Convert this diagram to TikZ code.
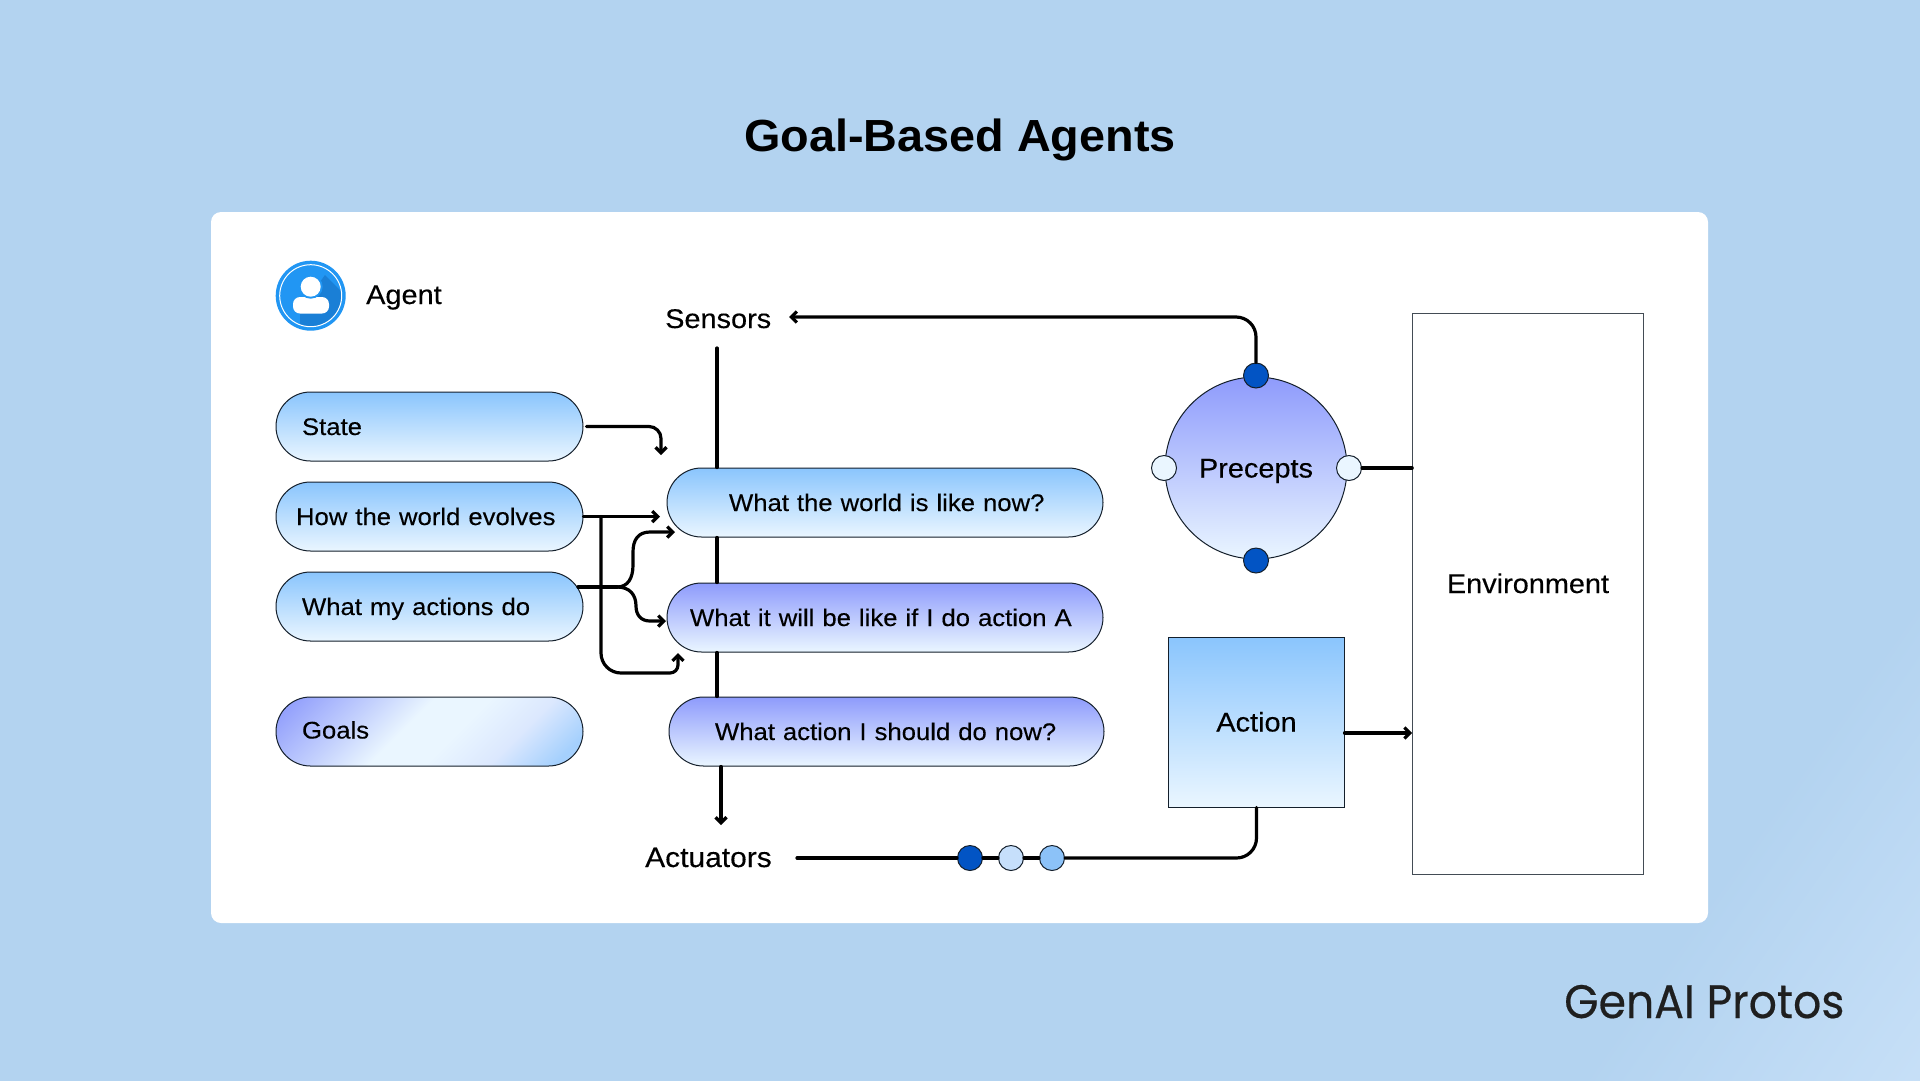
\documentclass[tikz,border=0pt]{standalone}
\usepackage{fontspec}
\setmainfont[FakeStretch=1.07,FakeBold=0.25]{Liberation Sans}
\newfontfamily\titlefont[FakeStretch=1.04]{Liberation Sans}
\newfontfamily\logofont[FakeStretch=0.94,FakeBold=0.4]{Poppins}
\usetikzlibrary{arrows.meta,calc,backgrounds}
\definecolor{bgA}{HTML}{B3D3F0}
\definecolor{bgB}{HTML}{C9E1F8}
\definecolor{skyTop}{HTML}{8AC5FD}
\definecolor{iceEnd}{HTML}{EAF6FF}
\definecolor{violetTop}{HTML}{8E9BFC}
\definecolor{violetMid}{HTML}{C6D3FD}
\definecolor{skyEnd}{HTML}{A5D0FD}
\definecolor{inkLine}{HTML}{141F2B}
\definecolor{deepBlue}{HTML}{0254C4}
\definecolor{paleBlue}{HTML}{C6DFFB}
\definecolor{midBlue}{HTML}{8CC2F8}
\definecolor{iconBlue}{HTML}{2196F3}
\definecolor{iconDark}{HTML}{1A7FD6}
\pgfdeclarehorizontalshading{goalsh}{100bp}{color(0bp)=(violetTop); color(31bp)=(violetTop); color(41bp)=(violetMid); color(47bp)=(iceEnd); color(53bp)=(iceEnd); color(60bp)=(violetMid!40!iceEnd); color(67bp)=(skyEnd); color(100bp)=(skyEnd)}
\pgfdeclarehorizontalshading{bgsh}{100bp}{color(0bp)=(bgA); color(76bp)=(bgA); color(86bp)=(bgB); color(100bp)=(bgB)}
\tikzset{
  x=1pt,y=-1pt,
  every node/.style={inner sep=0pt,font=\fontsize{24}{28}\selectfont,text=black},
  biglabel/.style={font=\fontsize{27}{30}\selectfont},
  outlined/.style={draw=inkLine,line width=1pt},
  cyanfill/.style={shade,top color=skyTop,bottom color=iceEnd},
  violetfill/.style={shade,top color=violetTop,bottom color=iceEnd},
  pill/.style n args={3}{outlined,rectangle,rounded corners=34.5pt,minimum height=69pt,minimum width=#1,
    inner xsep=#2,text width=#3,text height=17pt,text depth=0pt,anchor=center},
  dotnode/.style={circle,outlined,minimum size=25pt},
  boxnode/.style={rectangle,outlined,text height=19pt,text depth=0pt,biglabel},
  plain/.style={anchor=base west,biglabel},
  link/.style={line width=3.2pt,black,line cap=round},
  arrowlink/.style={link,-{Straight Barb[length=5.5pt,width=11pt]}},
}
\begin{document}
\begin{tikzpicture}
\useasboundingbox (0,0) rectangle (1920,1080);
\shade[shading=bgsh,shading angle=-35] (0,0) rectangle (1920,1080);
\fill[white,rounded corners=10pt] (211,212) rectangle (1708,923);
\node[font=\titlefont\fontsize{45}{50}\selectfont\bfseries,anchor=base] (title) at (960,151) {Goal-Based Agents};
\node[font=\logofont\fontsize{47}{50}\selectfont,anchor=base west,text=black!88] (logo) at (1564,1018) {GenAI Protos};

% icon
\node[circle,fill=iconBlue,minimum size=70pt] (icon) at (310.7,295.7) {};
\begin{scope}
\clip (icon.center) circle (31pt);
\fill[iconDark] (300,310) -- (325,275) -- (350,300) -- (340,340) -- (300,340) -- cycle;
\end{scope}
\draw[white,line width=1pt] (icon.center) circle (31pt);
\fill[white,rounded corners=7pt] (293,313.5) -- (293,297) -- (329,297) -- (329,313.5) -- cycle;
\fill[iconBlue] (310.7,286.7) circle (12pt);
\fill[white] (310.7,286.7) circle (10pt);
\node[plain] (agent) at (366,304) {Agent};

% left pills
\node[pill={307pt}{26pt}{255pt},cyanfill] (state) at (429.5,426.5) {\mbox{State}};
\node[pill={307pt}{20pt}{267pt},cyanfill] (evolves) at (429.5,516.5) {\mbox{How the world evolves}};
\node[pill={307pt}{26pt}{255pt},cyanfill] (actions) at (429.5,606.5) {\mbox{What my actions do}};
\node[pill={307pt}{26pt}{255pt},text depth=3pt,outlined,path picture={\shade[shading=goalsh,shading angle=-45]
   ($(path picture bounding box.center)+(-165,-165)$) rectangle ++(330,330);}] (goals) at (429.5,731.5) {\mbox{Goals}};

% right pills
\node[pill={436pt}{62pt}{312pt},cyanfill] (world) at (885,502.5) {\mbox{What the world is like now?}};
\node[pill={436pt}{23pt}{390pt},violetfill] (will) at (885,617.5) {\mbox{What it will be like if I do action A}};
\node[pill={435pt}{46pt}{343pt},violetfill] (should) at (886.5,731.5) {\mbox{What action I should do now?}};

% texts
\node[plain] (sensors) at (665,328) {Sensors};
\node[plain,font=\fontsize{28}{30}\selectfont] (actuators) at (645,867) {Actuators};

% precepts
\node[circle,outlined,violetfill,minimum size=182pt,text height=19pt,text depth=0pt,biglabel] (precepts) at (1256,468) {Precepts};
\node[dotnode,fill=deepBlue] (dotT) at (1256,375.5) {};
\node[dotnode,fill=deepBlue] (dotB) at (1256,560.5) {};
\node[dotnode,fill=iceEnd] (dotL) at (1164,468) {};
\node[dotnode,fill=iceEnd] (dotR) at (1349,468) {};

% boxes
\node[boxnode,cyanfill,minimum width=176pt,minimum height=170pt] (action) at (1256.5,722) {Action};
\node[rectangle,draw=inkLine!80,line width=0.7pt,fill=white,minimum width=231pt,minimum height=561pt,text height=19pt,text depth=20pt,biglabel] (env) at (1528,593.5) {Environment};

% small chain dots
\node[dotnode,fill=deepBlue] (c1) at (970,858) {};
\node[dotnode,fill=paleBlue] (c2) at (1011,858) {};
\node[dotnode,fill=midBlue] (c3) at (1052,858) {};

% helper coordinates
\coordinate (vx) at (717,0);
\coordinate (sensTop) at (717,348);
\coordinate (sensEnd) at (789,317);
\coordinate (actLineStart) at (797,858);
\coordinate (stateEnd) at (661,455);
\coordinate (evEnd) at (660,516.5);
\coordinate (evBranch) at (601,516.5);
\coordinate (evTurn) at (678,673);
\coordinate (evEnd2) at (678,653);
\coordinate (acStart) at (578,587);
\coordinate (acFork) at (617,587);
\coordinate (acUp) at (675,532);
\coordinate (acDown) at (666,621);
\coordinate (actIn) at (721,825);
\coordinate (actionOut) at (1344.5,733);

% connectors
\draw[link] (sensTop) -- (vx |- world.north);
\draw[link] (vx |- world.south) -- (vx |- will.north);
\draw[link] (vx |- will.south) -- (vx |- should.north);
\draw[arrowlink] (actIn |- should.south) -- (actIn);
\draw[arrowlink,rounded corners=20pt] (dotT.north) |- (sensEnd);
\draw[link] (dotR.east) -- (dotR.east -| env.west);
\draw[arrowlink] (actionOut) -- (actionOut -| env.west);
\draw[link,rounded corners=20pt] (action.south) |- (c3.east);
\draw[link] (c3.west) -- (c2.east);
\draw[link] (c2.west) -- (c1.east);
\draw[link] (c1.west) -- (actLineStart);
\draw[arrowlink,rounded corners=12pt] ($(state.east)+(3,0)$) -| (stateEnd);
\draw[arrowlink] (evolves.east) -- (evEnd);
\draw[arrowlink,rounded corners=20pt] (evBranch) -- (evBranch |- evTurn) [rounded corners=8pt] -- (evTurn) -- (evEnd2);
\draw[link] (acStart) -- (acFork);
\draw[arrowlink] (acFork) .. controls (628,587) and (633,578) .. (633,565) -- (633,552) .. controls (633,540) and (638,532) .. (650,532) -- (acUp);
\draw[arrowlink] (acFork) .. controls (630,587) and (636,595) .. (636,606) .. controls (636,615) and (641,621) .. (650,621) -- (acDown);
\end{tikzpicture}
\end{document}
